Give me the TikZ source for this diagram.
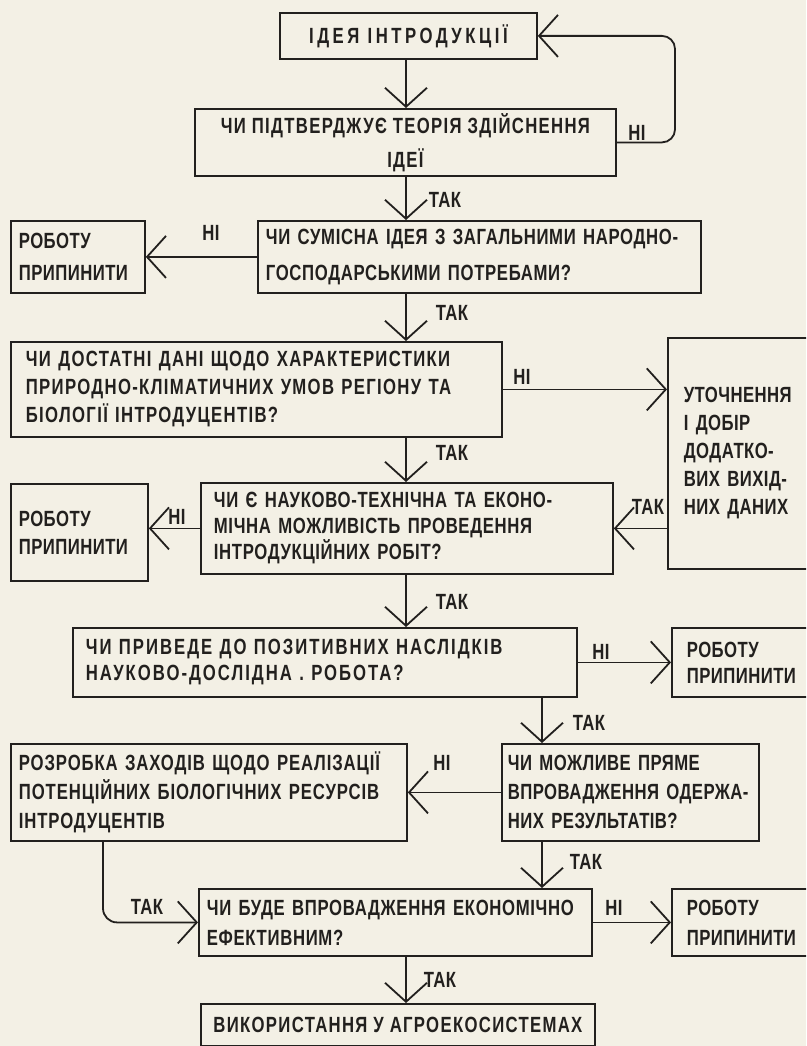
\documentclass[tikz,border=0pt]{standalone}
\usepackage{fontspec}
\setmainfont{Liberation Sans}[FakeStretch=0.76,LetterSpace=2]
\usepackage{xcolor}
\usetikzlibrary{arrows.meta}
\definecolor{paper}{RGB}{243,240,229}
\definecolor{ink}{RGB}{34,32,30}
\tikzset{
  blok/.style={draw=ink, line width=1.8pt, anchor=north west, inner ysep=0pt, align=left, text=ink, font=\fontsize{22}{28}\selectfont\bfseries},
  rows/.style={font=\fontsize{22}{#1}\selectfont\bfseries},
  wide/.style={execute at begin node={\addfontfeature{LetterSpace=#1}}},
  lbl/.style={text=ink, inner sep=0pt, font=\fontsize{22}{24}\selectfont\bfseries},
  conn/.style={draw=ink, line width=1.8pt, -{Straight Barb[length=19pt,width=42pt]}}
}

\begin{document}
\begin{tikzpicture}[x=1pt, y=-1pt]
          \useasboundingbox (0,0) rectangle (806,1046);
          \clip (0,0) rectangle (806,1046);
          \fill[paper] (0,0) rectangle (806,1046);
          \coordinate (midcol) at (406,0);
          \coordinate (sidecol) at (542,0);
          \coordinate (loopx) at (675,0);
          \coordinate (leftcol) at (103,0);

          \node[blok, wide=16, align=center, minimum width=257pt, minimum height=46pt] (idea) at (279,12) {ІДЕЯ ІНТРОДУКЦІЇ};
          \node[blok, rows=34, wide=6, align=center, minimum width=421pt, minimum height=67pt] (theory) at (194,108) {ЧИ ПІДТВЕРДЖУЄ ТЕОРІЯ ЗДІЙСНЕННЯ\\ІДЕЇ};
          \node[blok, rows=36, wide=3, inner xsep=8pt, text width=427pt, minimum width=443pt, minimum height=72pt] (compat) at (257,220) {ЧИ СУМІСНА ІДЕЯ З ЗАГАЛЬНИМИ НАРОДНО-\\ГОСПОДАРСЬКИМИ ПОТРЕБАМИ?};
          \node[blok, rows=32, inner xsep=8pt, text width=118pt, minimum width=134pt, minimum height=72pt] (stopA) at (10,220) {РОБОТУ\\ПРИПИНИТИ};
          \node[blok, wide=6, inner xsep=15pt, text width=461pt, minimum width=491pt, minimum height=95pt] (data) at (10,341) {ЧИ ДОСТАТНІ ДАНІ ЩОДО ХАРАКТЕРИСТИКИ\\ПРИРОДНО-КЛІМАТИЧНИХ УМОВ РЕГІОНУ ТА\\БІОЛОГІЇ ІНТРОДУЦЕНТІВ?};
          \node[blok, inner xsep=16pt, text width=128pt, minimum width=160pt, minimum height=231pt] (refine) at (667,337) {УТОЧНЕННЯ\\І ДОБІР\\ДОДАТКО-\\ВИХ ВИХІД-\\НИХ ДАНИХ};
          \node[blok, rows=26, wide=3, inner xsep=13pt, text width=386pt, minimum width=412pt, minimum height=91pt] (feasible) at (200,482) {ЧИ Є НАУКОВО-ТЕХНІЧНА ТА ЕКОНО-\\МІЧНА МОЖЛИВІСТЬ ПРОВЕДЕННЯ\\ІНТРОДУКЦІЙНИХ РОБІТ?};
          \node[blok, inner xsep=8pt, text width=121pt, minimum width=137pt, minimum height=97pt] (stopB) at (10,483) {РОБОТУ\\ПРИПИНИТИ};
          \node[blok, rows=26, wide=9, inner xsep=13pt, text width=478pt, minimum width=504pt, minimum height=69pt] (result) at (72,627) {ЧИ ПРИВЕДЕ ДО ПОЗИТИВНИХ НАСЛІДКІВ\\НАУКОВО-ДОСЛІДНА . РОБОТА?};
          \node[blok, rows=26, inner xsep=15pt, text width=130pt, minimum width=160pt, minimum height=69pt] (stopC) at (671,627) {РОБОТУ\\ПРИПИНИТИ};
          \node[blok, rows=29, inner xsep=6pt, text width=245pt, minimum width=257pt, minimum height=97pt] (direct) at (501,743) {ЧИ МОЖЛИВЕ ПРЯМЕ\\ВПРОВАДЖЕННЯ ОДЕРЖА-\\НИХ РЕЗУЛЬТАТІВ?};
          \node[blok, rows=29, wide=4, inner xsep=8pt, text width=380pt, minimum width=396pt, minimum height=97pt] (develop) at (10,743) {РОЗРОБКА ЗАХОДІВ ЩОДО РЕАЛІЗАЦІЇ\\ПОТЕНЦІЙНИХ БІОЛОГІЧНИХ РЕСУРСІВ\\ІНТРОДУЦЕНТІВ};
          \node[blok, rows=30, wide=3, inner xsep=8pt, text width=377pt, minimum width=393pt, minimum height=67pt] (effective) at (198,888) {ЧИ БУДЕ ВПРОВАДЖЕННЯ ЕКОНОМІЧНО\\ЕФЕКТИВНИМ?};
          \node[blok, rows=30, inner xsep=15pt, text width=130pt, minimum width=160pt, minimum height=67pt] (stopD) at (671,888) {РОБОТУ\\ПРИПИНИТИ};
          \node[blok, wide=6, align=center, minimum width=394pt, minimum height=42pt] (use) at (200,1003) {ВИКОРИСТАННЯ У АГРОЕКОСИСТЕМАХ};

          \draw[conn] (idea.south -| midcol) -- (theory.north -| midcol);
          \draw[conn, rounded corners=13pt] (theory.east) -- (theory.east -| loopx) -- (idea.east -| loopx) -- (idea.east);
          \draw[conn] (theory.south -| midcol) -- (compat.north -| midcol);
          \draw[conn] (compat.west) -- (stopA.east);
          \draw[conn] (compat.south -| midcol) -- (data.north -| midcol);
          \draw[conn] (data.east) -- (data.east -| refine.west);
          \draw[conn] (data.south -| midcol) -- (feasible.north -| midcol);
          \draw[conn] (feasible.west) -- (feasible.west -| stopB.east);
          \draw[conn] (refine.west |- feasible.east) -- (feasible.east);
          \draw[conn] (feasible.south -| midcol) -- (result.north -| midcol);
          \draw[conn] (result.east) -- (stopC.west);
          \draw[conn] (result.south -| sidecol) -- (direct.north -| sidecol);
          \draw[conn] (direct.west) -- (develop.east);
          \draw[conn] (direct.south -| sidecol) -- (effective.north -| sidecol);
          \draw[conn, rounded corners=14pt] (develop.south -| leftcol) |- (effective.west);
          \draw[conn] (effective.east) -- (stopD.west);
          \draw[conn] (effective.south -| midcol) -- (use.north -| midcol);

          \node[lbl] (noLoop) at (637,133) {НІ};
          \node[lbl] (yesA) at (445,200) {ТАК};
          \node[lbl] (noA) at (211,233) {НІ};
          \node[lbl] (yesB) at (452,313) {ТАК};
          \node[lbl] (noB) at (522,377) {НІ};
          \node[lbl] (yesC) at (452,453) {ТАК};
          \node[lbl] (noC) at (177,517) {НІ};
          \node[lbl] (yesD) at (648,507) {ТАК};
          \node[lbl] (yesE) at (452,602) {ТАК};
          \node[lbl] (noD) at (601,652) {НІ};
          \node[lbl] (yesF) at (589,723) {ТАК};
          \node[lbl] (noE) at (442,763) {НІ};
          \node[lbl] (yesG) at (586,862) {ТАК};
          \node[lbl] (noF) at (614,908) {НІ};
          \node[lbl] (yesH) at (147,907) {ТАК};
          \node[lbl] (yesI) at (440,980) {ТАК};
        \end{tikzpicture}
\end{document}
